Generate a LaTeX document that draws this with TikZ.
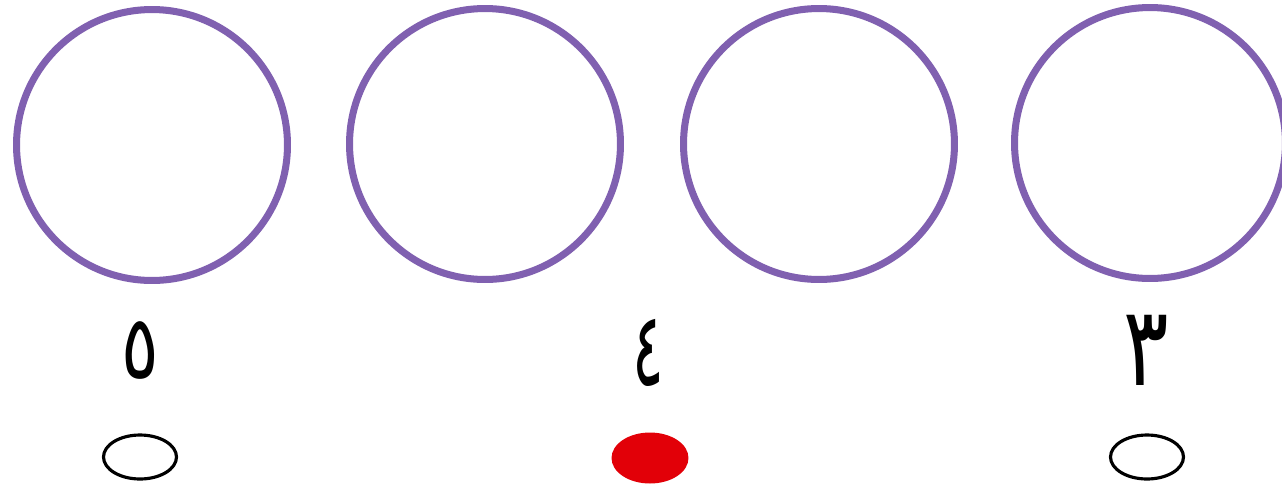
\documentclass[tikz,border=0pt]{standalone}
\usepackage{fontspec}
\newfontfamily\arabicfont[Script=Arabic]{DejaVu Sans}
\TeXXeTstate=1
\usetikzlibrary{shapes.geometric}
\definecolor{ringpurple}{RGB}{128,96,176}
\definecolor{dotred}{RGB}{226,0,8}
\newcommand{\tallnum}[3]{\scalebox{#2}[#3]{\beginR #1\endR}}
\begin{document}
\begin{tikzpicture}[x=0.02cm,y=-0.02cm,
  ring/.style={circle,draw=ringpurple,line width=4pt,minimum size=5.42cm,inner sep=0pt},
  digit/.style={font=\arabicfont\fontsize{42}{44}\selectfont,inner sep=0pt},
  openoval/.style={ellipse,draw=black,line width=1.8pt,minimum width=1.46cm,minimum height=0.88cm,inner sep=0pt},
  redoval/.style={ellipse,fill=dotred,minimum width=1.54cm,minimum height=1.02cm,inner sep=0pt}]
\useasboundingbox[fill=white] (0,0) rectangle (1282,495);
\node[ring] (c1) at (152,145) {};
\node[ring] (c2) at (485,144) {};
\node[ring] (c3) at (819,144) {};
\node[ring] (c4) at (1150,143) {};
\node[digit] (d5) at (140,350) {\tallnum{٥}{0.95}{1.2}};
\node[digit] (d4) at (648,353) {\tallnum{٤}{0.8}{1.4}};
\node[digit] (d3) at (1146,350) {\tallnum{٣}{1.15}{1.5}};
\node[openoval] (o1) at (140,457) {};
\node[redoval] (o2) at (650,458) {};
\node[openoval] (o3) at (1147,457) {};
\end{tikzpicture}
\end{document}
